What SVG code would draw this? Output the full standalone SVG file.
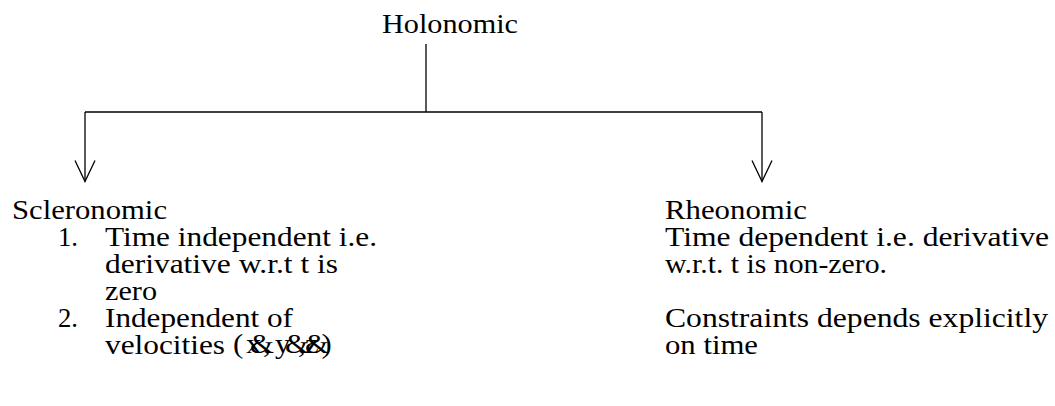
<svg xmlns="http://www.w3.org/2000/svg" width="1055" height="406" viewBox="0 0 1055 406">
<style>
text{font-family:'Liberation Serif',Tinos,'Times New Roman',Times,serif;font-size:27px;fill:#000}
.ln{fill:none;stroke:#000;stroke-width:1.3}
</style>
<defs>
<marker id="arr" viewBox="-11 -22 22 24" refX="0" refY="0" markerWidth="22" markerHeight="24" markerUnits="userSpaceOnUse" orient="0" overflow="visible">
<polyline points="-10,-21 0,0 10,-21" fill="none" stroke="#000" stroke-width="1.3"/>
</marker>
</defs>
<rect width="1055" height="406" fill="#fff"/>
<g id="connectors">
<path class="ln" d="M426 44 V112"/>
<path class="ln" d="M85 112 H762"/>
<path class="ln" d="M85 112 V181.5" marker-end="url(#arr)"/>
<path class="ln" d="M762 112 V181.5" marker-end="url(#arr)"/>
</g>
<g id="holonomic">
<text x="382" y="33" textLength="136" lengthAdjust="spacingAndGlyphs">Holonomic</text>
</g>
<g id="scleronomic">
<text x="12" y="218.5" textLength="155" lengthAdjust="spacingAndGlyphs">Scleronomic</text>
<text x="58" y="245.5" textLength="20" lengthAdjust="spacingAndGlyphs">1.</text>
<text x="105" y="245.5" textLength="272" lengthAdjust="spacingAndGlyphs">Time independent i.e.</text>
<text x="105" y="272.5" textLength="233" lengthAdjust="spacingAndGlyphs">derivative w.r.t t is</text>
<text x="105" y="299.5" textLength="52" lengthAdjust="spacingAndGlyphs">zero</text>
<text x="58" y="326.5" textLength="20" lengthAdjust="spacingAndGlyphs">2.</text>
<text x="105" y="326.5" textLength="188" lengthAdjust="spacingAndGlyphs">Independent of</text>
<text x="105" y="353.5" textLength="120" lengthAdjust="spacingAndGlyphs">velocities</text>
<text transform="scale(1.14 1)" x="204.4 215.8 219.3 230.7 241.2 250 261.4 267.5 267.5 282" y="353.5">(x&amp;,y&amp;,z&amp;)</text>
</g>
<g id="rheonomic">
<text x="665" y="218.5" textLength="142" lengthAdjust="spacingAndGlyphs">Rheonomic</text>
<text x="665" y="245.5" textLength="384" lengthAdjust="spacingAndGlyphs">Time dependent i.e. derivative</text>
<text x="665" y="272.5" textLength="222" lengthAdjust="spacingAndGlyphs">w.r.t. t is non-zero.</text>
<text x="665" y="326.5" textLength="383" lengthAdjust="spacingAndGlyphs">Constraints depends explicitly</text>
<text x="665" y="353.5" textLength="93" lengthAdjust="spacingAndGlyphs">on time</text>
</g>
</svg>
